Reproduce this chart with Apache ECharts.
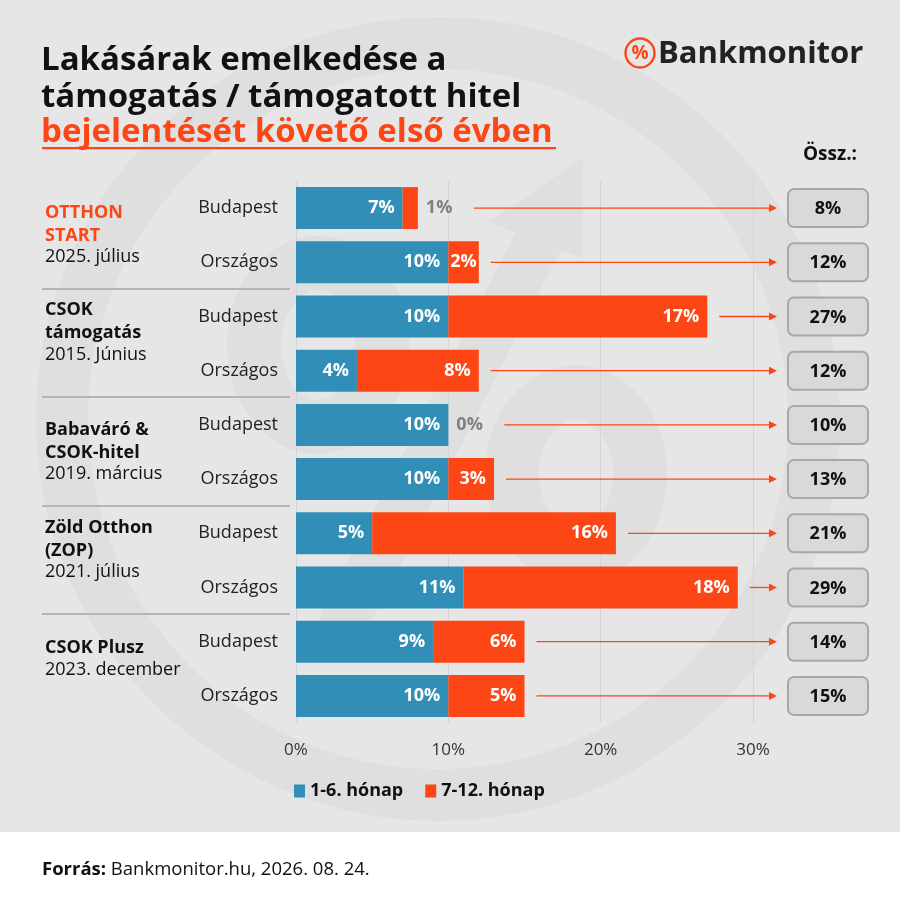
<!DOCTYPE html>
<html>
<head>
<meta charset="utf-8">
<script src="https://cdn.jsdelivr.net/npm/echarts@6/dist/echarts.min.js"></script>
<style>
html,body{margin:0;padding:0;background:#e6e6e6;}
#chart{width:900px;height:900px;}
</style>
</head>
<body>
<div id="chart"></div>
<script>
// ---- data ----
const groupTitles = [['OTTHON', 'START'], ['CSOK', 'támogatás'], ['Babaváró &', 'CSOK-hitel'], ['Zöld Otthon', '(ZOP)'], ['CSOK Plusz']];
const groupDates = ['2025. július', '2015. Június', '2019. március', '2021. július', '2023. december'];
const regions = ['Budapest', 'Országos', 'Budapest', 'Országos', 'Budapest', 'Országos', 'Budapest', 'Országos', 'Budapest', 'Országos'];
const firstHalf = [7, 10, 10, 4, 10, 10, 5, 11, 9, 10];
const secondHalf = [1, 2, 17, 8, 0, 3, 16, 18, 6, 5];
const totals = [8, 12, 27, 12, 10, 13, 21, 29, 14, 15];
const xTicks = [0, 10, 20, 30];
const seriesNames = ['1-6. hónap', '7-12. hónap'];

// ---- style ----
const BLUE = '#318fb7';
const ORANGE = '#fc4615';
const WM = '#dfdfdf';
const FONT = '"Open Sans", "Noto Sans", sans-serif';

const chart = echarts.init(document.getElementById('chart'), null, { renderer: 'canvas' });

function renderArrow(params, api) {
  const i = api.value(0);
  const end = api.value(1);
  const outside = api.value(2);
  const total = api.value(3);
  const p = api.coord([end, i]);
  const axisEnd = api.coord([xTicks[xTicks.length - 1], i]);
  const y = p[1];
  const x0 = p[0] + (outside ? 56 : 12);
  const tip = axisEnd[0] + 24;
  const bx = axisEnd[0] + 35;
  return {
    type: 'group',
    children: [
      { type: 'line', shape: { x1: x0, y1: y, x2: tip - 6, y2: y }, style: { stroke: ORANGE, lineWidth: 1.3 } },
      { type: 'polygon', shape: { points: [[tip, y], [tip - 8, y - 4], [tip - 8, y + 4]] }, style: { fill: ORANGE } },
      { type: 'rect', shape: { x: bx, y: y - 19, width: 80, height: 38, r: 6 }, style: { fill: '#d9d9d9', stroke: '#a8a8a8', lineWidth: 2 } },
      { type: 'text', x: bx + 40, y: y + 1, style: { text: total + '%', fill: '#111', font: 'bold 18px ' + FONT, align: 'center', verticalAlign: 'middle' } }
    ]
  };
}

const groupLayout = [
  { ys: [213, 236, 257] },
  { ys: [310, 333, 355] },
  { ys: [430, 453, 474] },
  { ys: [528, 551, 572] },
  { ys: [648, 670] }
];
const graphics = [];
// watermark (enlarged logo)
graphics.push({ type: 'circle', silent: true, z: -10, shape: { cx: 438, cy: 419, r: 376 }, style: { fill: 'none', stroke: WM, lineWidth: 52 } });
graphics.push({ type: 'ellipse', silent: true, z: -10, shape: { cx: 576, cy: 474, rx: 64, ry: 82 }, style: { fill: 'none', stroke: WM, lineWidth: 54 } });
graphics.push({ type: 'ellipse', silent: true, z: -10, shape: { cx: 318, cy: 345, rx: 64, ry: 82 }, style: { fill: 'none', stroke: WM, lineWidth: 54 } });
graphics.push({ type: 'line', silent: true, z: -10, shape: { x1: 335, y1: 640, x2: 548, y2: 222 }, style: { stroke: WM, lineWidth: 48 } });
graphics.push({ type: 'polygon', silent: true, z: -10, shape: { points: [[583, 158], [488, 222], [583, 258]] }, style: { fill: WM } });
// footer
graphics.push({ type: 'rect', silent: true, z: -5, shape: { x: 0, y: 832, width: 900, height: 68 }, style: { fill: '#ffffff' } });
graphics.push({ type: 'text', x: 42, y: 870, style: { rich: { b: { font: 'bold 18.5px ' + FONT, fill: '#111' }, n: { font: '18.5px ' + FONT, fill: '#111' } }, text: '{b|Forrás:}{n| Bankmonitor.hu, 2026. 08. 24.}', verticalAlign: 'middle' } });
// title
const titleLines = ['Lakásárak emelkedése a', 'támogatás / támogatott hitel', 'bejelentését követő első évben'];
[61, 98, 133].forEach((y, k) => {
  graphics.push({ type: 'text', x: 41, y: y, style: { text: titleLines[k], font: 'bold 33px ' + FONT, fill: k === 2 ? ORANGE : '#111', verticalAlign: 'middle' } });
});
graphics.push({ type: 'rect', shape: { x: 42, y: 147, width: 514, height: 2.2 }, style: { fill: ORANGE } });
// logo
graphics.push({ type: 'circle', shape: { cx: 640, cy: 53, r: 14.5 }, style: { fill: 'none', stroke: ORANGE, lineWidth: 2.4 } });
graphics.push({ type: 'text', x: 640, y: 54, style: { text: '%', font: 'bold 19px ' + FONT, fill: ORANGE, align: 'center', verticalAlign: 'middle' } });
graphics.push({ type: 'text', x: 658, y: 54, style: { text: 'Bankmonitor', font: 'bold 31px ' + FONT, fill: '#222', verticalAlign: 'middle' } });
graphics.push({ type: 'text', x: 857, y: 155, style: { text: 'Össz.:', font: 'bold 19px ' + FONT, fill: '#111', align: 'right', verticalAlign: 'middle' } });
// group labels
groupTitles.forEach((lines, g) => {
  const ys = groupLayout[g].ys;
  lines.forEach((t, k) => {
    graphics.push({ type: 'text', x: 45, y: ys[k], style: { text: t, font: 'bold 18px ' + FONT, fill: g === 0 ? ORANGE : '#111', verticalAlign: 'middle' } });
  });
  graphics.push({ type: 'text', x: 45, y: ys[lines.length], style: { text: groupDates[g], font: '18px ' + FONT, fill: '#111', verticalAlign: 'middle' } });
});
[289, 397, 506, 614].forEach(y => {
  graphics.push({ type: 'rect', shape: { x: 42, y: y - 1, width: 248, height: 2 }, style: { fill: '#b5b5b5' } });
});

const option = {
  backgroundColor: '#e6e6e6',
  animation: false,
  textStyle: { fontFamily: FONT },
  grid: { left: 296, top: 181, width: 457, height: 542, containLabel: false },
  legend: {
    left: 289, top: 777, itemWidth: 11, itemHeight: 13, itemGap: 22, icon: 'rect',
    textStyle: { fontFamily: FONT, fontWeight: 'bold', fontSize: 18, color: '#111' },
    data: seriesNames
  },
  xAxis: {
    type: 'value', min: xTicks[0], max: xTicks[xTicks.length - 1], interval: 10,
    axisLine: { show: false }, axisTick: { show: false },
    splitLine: { show: true, lineStyle: { color: '#d5d5d5', width: 1 } },
    axisLabel: { formatter: v => v + '%', fontFamily: FONT, fontSize: 17, color: '#333', margin: 19 }
  },
  yAxis: {
    type: 'category', inverse: true, data: regions,
    axisLine: { show: false }, axisTick: { show: false },
    axisLabel: { fontFamily: FONT, fontSize: 18, color: '#222', margin: 18 }
  },
  graphic: { elements: graphics },
  series: [
    {
      name: seriesNames[0], type: 'bar', stack: 'a', barWidth: 42, itemStyle: { color: BLUE },
      label: { show: true, position: 'insideRight', distance: 8, formatter: p => p.value + '%', color: '#fff', fontWeight: 'bold', fontSize: 18, fontFamily: FONT },
      data: firstHalf
    },
    {
      name: seriesNames[1], type: 'bar', stack: 'a', barWidth: 42, itemStyle: { color: ORANGE },
      data: secondHalf.map(v => ({
        value: v,
        label: v < 2
          ? { show: true, position: 'right', distance: 8, color: '#808080' }
          : { show: true, position: 'insideRight', distance: v === 2 ? 2 : 8, color: '#fff' }
      })),
      label: { formatter: p => p.value + '%', fontWeight: 'bold', fontSize: 18, fontFamily: FONT }
    },
    {
      type: 'custom', renderItem: renderArrow, clip: false, silent: true,
      encode: { x: 1, y: 0 },
      data: firstHalf.map((v, i) => [i, v + secondHalf[i], secondHalf[i] < 2 ? 1 : 0, totals[i]])
    }
  ]
};
chart.setOption(option);
</script>
</body>
</html>
